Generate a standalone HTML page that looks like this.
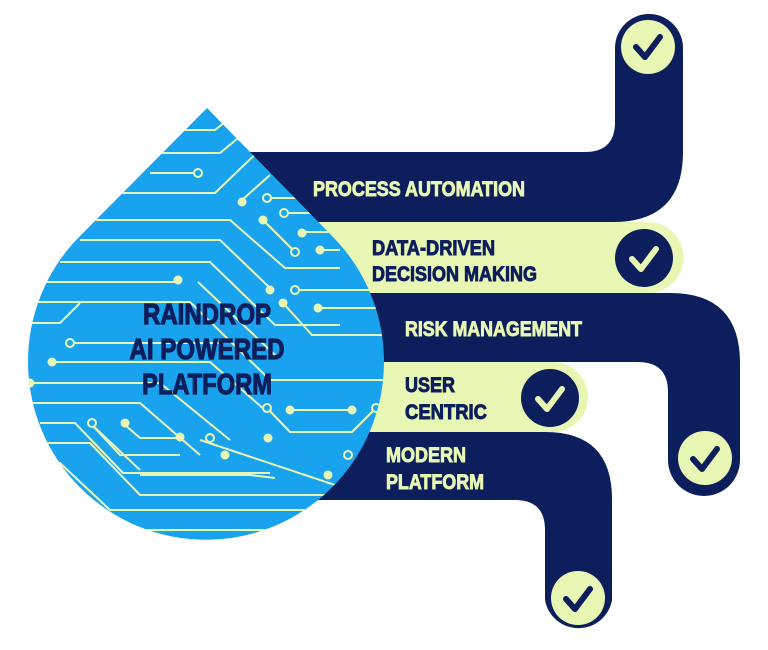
<!DOCTYPE html>
<html><head><meta charset="utf-8"><style>
html,body{margin:0;padding:0;background:#fff;}
svg{display:block;}
text{font-family:"Liberation Sans Narrow","Liberation Sans",sans-serif;font-weight:bold;}
</style></head><body>
<svg width="768" height="650" viewBox="0 0 768 650" xmlns="http://www.w3.org/2000/svg">
<defs>
<clipPath id="drop"><path d="M207,108 L333,237 A178,178 0 1 1 79,237 Z"/></clipPath>
</defs>
<path d="M230,152 L585,152 Q615,152 615,122 L615,48 A34,34 0 0 1 683,48 L683,152 Q683,222 613,222 L230,222 Z" fill="#0c1e5b"/>
<path d="M300,293 L670,293 Q740,293 740,363 L740,460 A36,36 0 0 1 668,460 L668,392 Q668,362 638,362 L300,362 Z" fill="#0c1e5b"/>
<path d="M250,432 L545,432 Q612,432 612,499 L612,600 A34,34 0 0 1 545,600 L545,530 Q545,500 515,500 L250,500 Z" fill="#0c1e5b"/>
<path d="M240,222 L648,222 A35.5,35.5 0 0 1 648,293 L240,293 Z" fill="#e8f7b4"/>
<path d="M300,362 L553,362 A35,35 0 0 1 553,432 L300,432 Z" fill="#e8f7b4"/>
<g stroke-linecap="round" stroke-linejoin="round" fill="none" stroke-width="6">
<circle cx="648" cy="47" r="27" fill="#e8f7b4" stroke="none"/>
<path d="M636,47 L645,57 L660,37" stroke="#0c1e5b"/>
<circle cx="644" cy="258" r="29" fill="#0c1e5b" stroke="none"/>
<path d="M632,259 L641,269 L656,249" stroke="#e8f7b4"/>
<circle cx="705" cy="458" r="27" fill="#e8f7b4" stroke="none"/>
<path d="M693,459 L702,469 L717,449" stroke="#0c1e5b"/>
<circle cx="550" cy="398" r="29" fill="#0c1e5b" stroke="none"/>
<path d="M538,399 L547,409 L562,389" stroke="#e8f7b4"/>
<circle cx="578" cy="598" r="27" fill="#e8f7b4" stroke="none"/>
<path d="M566,599 L575,609 L590,589" stroke="#0c1e5b"/>
</g>
<path d="M207,108 L333,237 A178,178 0 1 1 79,237 Z" fill="#19a3ef"/>
<g clip-path="url(#drop)" stroke="#e8f7b4" stroke-width="2" fill="none">
<path d="M150,130 L215,130 L240,110"/>
<path d="M120,153 L220,153 L260,120"/>
<path d="M150,173 L198,173"/>
<path d="M100,193 L215,193 L270,140"/>
<path d="M242,200 L270,175"/>
<path d="M265,198 L300,198"/>
<path d="M283,213 L310,213"/>
<path d="M263,220 L295,252"/>
<path d="M300,232 L330,232"/>
<path d="M320,250 L340,250"/>
<path d="M90,220 L230,220 L285,268 L340,268"/>
<path d="M80,240 L220,240 L270,288"/>
<path d="M60,262 L210,262 L275,325 L340,325"/>
<path d="M40,282 L178,282"/>
<path d="M198,282 L275,355"/>
<path d="M295,290 L380,290"/>
<path d="M283,303 L312,335 L390,335"/>
<path d="M318,308 L385,308"/>
<path d="M30,302 L190,302 L270,380 L390,380"/>
<path d="M30,323 L60,323 L80,303"/>
<path d="M70,343 L220,343"/>
<path d="M52,362 L210,362 L265,410"/>
<path d="M30,383 L160,383 L230,440"/>
<path d="M30,403 L140,403 L200,455"/>
<path d="M290,410 L352,410"/>
<path d="M267,408 L290,432 L352,432 L376,408"/>
<path d="M40,423 L75,423 L123,473 L270,473"/>
<path d="M90,423 L140,470"/>
<path d="M92,425 L120,455 L180,455"/>
<path d="M125,425 L140,438 L180,438"/>
<path d="M200,440 L350,490 "/>
<path d="M40,443 L90,443 L140,495 L330,495"/>
<path d="M40,463 L60,463 L110,510 L390,510"/>
<path d="M40,483 L140,530 L390,530"/>
<path d="M140,475 L250,475 L275,478"/>
</g>
<g clip-path="url(#drop)" fill="#e8f7b4">
<circle cx="242" cy="202" r="4.5"/><circle cx="263" cy="220" r="4.5"/><circle cx="302" cy="233" r="4.5"/>
<circle cx="320" cy="250" r="4.5"/><circle cx="178" cy="280" r="4.5"/><circle cx="270" cy="290" r="4.5"/>
<circle cx="283" cy="303" r="4.5"/><circle cx="318" cy="308" r="4.5"/><circle cx="52" cy="362" r="4.5"/>
<circle cx="30" cy="383" r="4.5"/><circle cx="290" cy="410" r="4.5"/><circle cx="352" cy="410" r="4.5"/>
<circle cx="125" cy="423" r="4.5"/><circle cx="180" cy="437" r="4.5"/><circle cx="268" cy="438" r="4.5"/>
<circle cx="225" cy="455" r="4.5"/><circle cx="328" cy="475" r="4.5"/>
</g>
<g clip-path="url(#drop)" fill="#19a3ef" stroke="#e8f7b4" stroke-width="2">
<circle cx="198" cy="173" r="4"/><circle cx="267" cy="198" r="4"/><circle cx="284" cy="213" r="4"/>
<circle cx="295" cy="252" r="4"/><circle cx="295" cy="290" r="4"/><circle cx="70" cy="343" r="4"/>
<circle cx="92" cy="423" r="4"/><circle cx="267" cy="408" r="4"/><circle cx="376" cy="408" r="4"/>
<circle cx="210" cy="438" r="4"/><circle cx="348" cy="455" r="4"/>
</g>
<g fill="#0c1e5b" stroke="#0c1e5b" stroke-width="1.2" font-size="29" text-anchor="middle">
<text x="207" y="324" textLength="128" lengthAdjust="spacingAndGlyphs">RAINDROP</text>
<text x="207" y="359" textLength="155" lengthAdjust="spacingAndGlyphs">AI POWERED</text>
<text x="207" y="394" textLength="130" lengthAdjust="spacingAndGlyphs">PLATFORM</text>
</g>
<g font-size="21" stroke-width="0.9">
<text x="313" y="196" fill="#e8f7b4" stroke="#e8f7b4" textLength="212" lengthAdjust="spacingAndGlyphs">PROCESS AUTOMATION</text>
<text x="372" y="255" fill="#0c1e5b" stroke="#0c1e5b" textLength="123" lengthAdjust="spacingAndGlyphs">DATA-DRIVEN</text>
<text x="372" y="281" fill="#0c1e5b" stroke="#0c1e5b" textLength="165" lengthAdjust="spacingAndGlyphs">DECISION MAKING</text>
<text x="405" y="336" fill="#e8f7b4" stroke="#e8f7b4" textLength="177" lengthAdjust="spacingAndGlyphs">RISK MANAGEMENT</text>
<text x="405" y="392" fill="#0c1e5b" stroke="#0c1e5b" textLength="50" lengthAdjust="spacingAndGlyphs">USER</text>
<text x="405" y="419" fill="#0c1e5b" stroke="#0c1e5b" textLength="82" lengthAdjust="spacingAndGlyphs">CENTRIC</text>
<text x="386" y="462" fill="#e8f7b4" stroke="#e8f7b4" textLength="80" lengthAdjust="spacingAndGlyphs">MODERN</text>
<text x="386" y="489" fill="#e8f7b4" stroke="#e8f7b4" textLength="98" lengthAdjust="spacingAndGlyphs">PLATFORM</text>
</g>
</svg>
</body></html>
